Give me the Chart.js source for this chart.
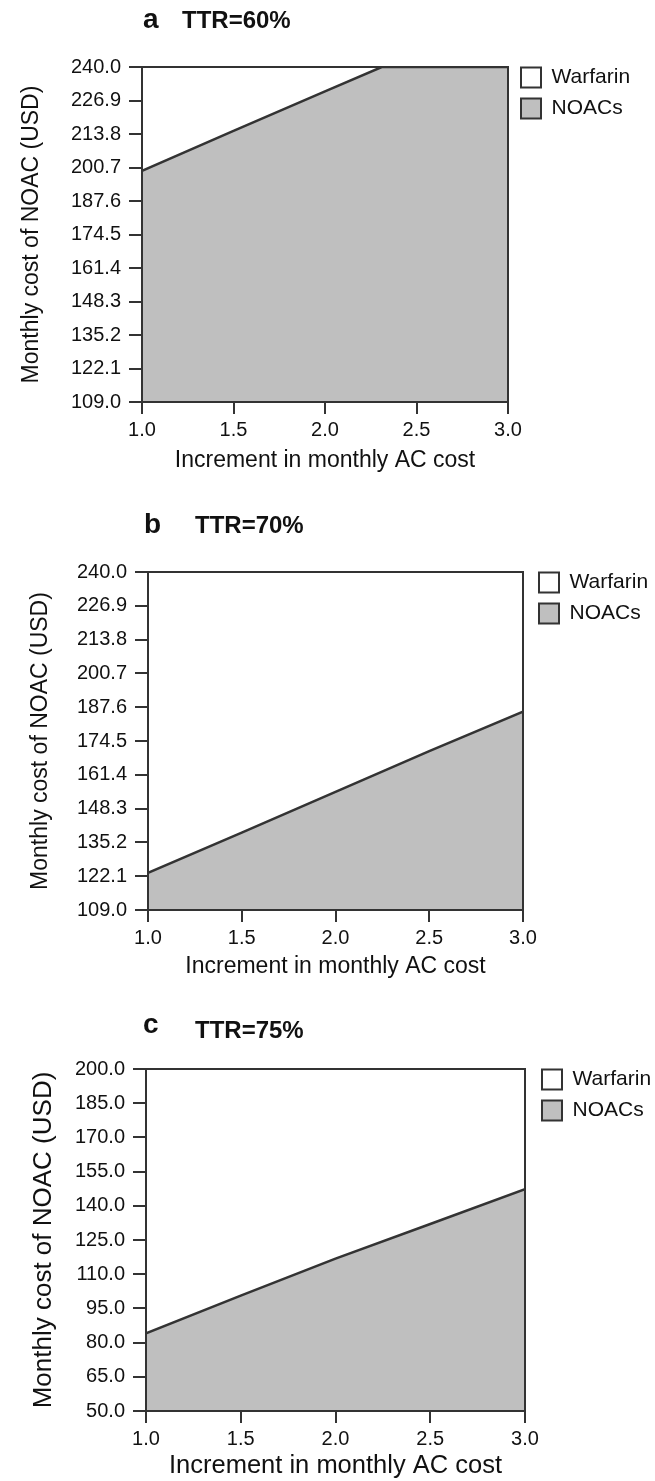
<!DOCTYPE html>
<html>
<head>
<meta charset="utf-8">
<script src="https://cdn.jsdelivr.net/npm/chart.js@4.4.0/dist/chart.umd.min.js"></script>
<style>
  html, body { margin: 0; padding: 0; background: #fff; }
  #page { position: relative; width: 655px; height: 1481px; overflow: hidden; }
  .panel { position: absolute; left: 0; width: 655px; }
  .panel canvas { display: block; }
</style>
</head>
<body>
<div id="page">
  <div class="panel" style="top:0px"><canvas id="chartA" width="655" height="490"></canvas></div>
  <div class="panel" style="top:490px"><canvas id="chartB" width="655" height="490"></canvas></div>
  <div class="panel" style="top:980px"><canvas id="chartC" width="655" height="501"></canvas></div>
</div>
<script>
// tick labels
const xTicks = [1.0, 1.5, 2.0, 2.5, 3.0];
const yTicksAB = [109.0, 122.1, 135.2, 148.3, 161.4, 174.5, 187.6, 200.7, 213.8, 226.9, 240.0];
const yTicksC = [50.0, 65.0, 80.0, 95.0, 110.0, 125.0, 140.0, 155.0, 170.0, 185.0, 200.0];

// threshold line: NOAC monthly cost vs increment in monthly AC cost
const incA = [1.0, 1.5, 2.0, 2.31, 2.5, 3.0];
const noacA = [199.4, 215.0, 230.5, 240.0, 240.0, 240.0];
const incB = [1.0, 1.5, 2.0, 2.5, 3.0];
const noacB = [123.4, 139.0, 154.8, 170.6, 185.9];
const incC = [1.0, 1.5, 2.0, 2.5, 3.0];
const noacC = [84.1, 100.6, 116.8, 132.0, 147.3];

const seriesNames = ['Warfarin', 'NOACs'];
const panelLetters = ['a', 'b', 'c'];
const panelTitles = ['TTR=60%', 'TTR=70%', 'TTR=75%'];
const xTitle = 'Increment in monthly AC cost';
const yTitle = 'Monthly cost of NOAC (USD)';

const FONT = '"Liberation Sans", Arial, sans-serif';
const INK = '#111';
const LINE = '#333';
Chart.defaults.font.family = FONT;
Chart.defaults.color = INK;

// box around the plot area
const frame = {
    id: 'frame',
    afterDatasetsDraw(chart) {
        const {ctx, chartArea: a} = chart;
        ctx.save();
        ctx.strokeStyle = LINE;
        ctx.lineWidth = 2;
        ctx.strokeRect(a.left, a.top, a.right - a.left, a.bottom - a.top);
        ctx.restore();
    }
};

// panel letter + TTR heading
const panelTitle = {
    id: 'panelTitle',
    afterDraw(chart, args, o) {
        const ctx = chart.ctx;
        ctx.save();
        ctx.fillStyle = '#111';
        ctx.textBaseline = 'alphabetic';
        ctx.font = 'bold 28px ' + FONT;
        ctx.fillText(o.letter, o.letterX, o.letterY);
        ctx.font = 'bold 24px ' + FONT;
        ctx.fillText(o.text, o.textX, o.textY);
        ctx.restore();
    }
};

// nudge the legend so the first box lines up with the top of the plot,
// and let it use the space up to the canvas edge
const legendShift = {
    id: 'legendShift',
    afterLayout(chart, args, o) {
        const lg = chart.legend;
        if (!lg) return;
        lg.left += o.dx;
        lg.right = chart.width;
        lg.width = lg.right - lg.left;
        lg.top -= o.dy; lg.bottom -= o.dy;
    }
};

function makePanel(id, i, xs, noac, yTicks, cfg) {
    const yMax = yTicks[yTicks.length - 1];
    const ctx = document.getElementById(id).getContext('2d');
    return new Chart(ctx, {
        type: 'line',
        data: {
            datasets: [{
                label: seriesNames[1],
                data: xs.map((x, k) => ({x: x, y: noac[k]})),
                borderColor: LINE,
                borderWidth: 2.5,
                backgroundColor: '#bfbfbf',
                fill: 'start',
                pointRadius: 0,
                tension: 0
            }, {
                label: seriesNames[0],
                data: xs.map(x => ({x: x, y: yMax})),
                borderColor: 'rgba(0,0,0,0)',
                borderWidth: 0,
                backgroundColor: '#ffffff',
                fill: '-1',
                pointRadius: 0
            }]
        },
        options: {
            responsive: false,
            animation: false,
            devicePixelRatio: 1,
            layout: { padding: { top: cfg.top, left: 0, right: cfg.padR, bottom: 0 } },
            scales: {
                x: {
                    type: 'linear',
                    min: xTicks[0],
                    max: xTicks[xTicks.length - 1],
                    afterBuildTicks: s => { s.ticks = xTicks.map(v => ({value: v})); },
                    afterFit: s => { s.height = cfg.xH; },
                    grid: { drawOnChartArea: false, drawTicks: true, tickLength: 12, color: LINE, lineWidth: 2 },
                    border: { display: true, color: LINE, width: 2 },
                    ticks: { padding: 4, color: INK, font: { size: 20 }, maxRotation: 0, autoSkip: false,
                        callback: v => Number(v).toFixed(1) },
                    title: { display: true, text: xTitle, color: INK, font: { size: cfg.xTitleSize },
                        padding: { top: 0, bottom: cfg.xTitlePad } }
                },
                y: {
                    min: yTicks[0],
                    max: yMax,
                    afterBuildTicks: s => { s.ticks = yTicks.map(v => ({value: v})); },
                    afterFit: s => { s.width = cfg.yW; },
                    grid: { drawOnChartArea: false, drawTicks: true, tickLength: 13, color: LINE, lineWidth: 2 },
                    border: { display: true, color: LINE, width: 2 },
                    ticks: { padding: 8, color: INK, font: { size: 20 }, autoSkip: false,
                        callback: v => Number(v).toFixed(1) },
                    title: { display: true, text: yTitle, color: INK, font: { size: cfg.yTitleSize },
                        padding: { top: cfg.yTitlePad, bottom: 0 } }
                }
            },
            plugins: {
                tooltip: { enabled: false },
                legend: {
                    position: 'right',
                    align: 'start',
                    reverse: true,
                    maxWidth: 100,
                    labels: {
                        boxWidth: 20,
                        boxHeight: 20,
                        padding: 10,
                        color: INK,
                        font: { size: 21 },
                        generateLabels(chart) {
                            return Chart.defaults.plugins.legend.labels.generateLabels(chart)
                                .map(l => Object.assign(l, { strokeStyle: LINE, lineWidth: 2 }));
                        }
                    }
                },
                legendShift: { dx: cfg.legDx, dy: 10 },
                panelTitle: {
                    letter: panelLetters[i], text: panelTitles[i],
                    letterX: cfg.letterX, letterY: cfg.letterY, textX: cfg.textX, textY: cfg.textY
                }
            }
        },
        plugins: [frame, panelTitle, legendShift]
    });
}

makePanel('chartA', 0, incA, noacA, yTicksAB, {
    top: 67, xH: 88, yW: 142, padR: 47, legDx: 3,
    xTitleSize: 23, xTitlePad: 16, yTitleSize: 23, yTitlePad: 18,
    letterX: 143, letterY: 28, textX: 182, textY: 28
});
makePanel('chartB', 1, incB, noacB, yTicksAB, {
    top: 82, xH: 70, yW: 148, padR: 32, legDx: 6,
    xTitleSize: 23, xTitlePad: 0, yTitleSize: 23, yTitlePad: 27,
    letterX: 144, letterY: 43, textX: 195, textY: 43
});
makePanel('chartC', 2, incC, noacC, yTicksC, {
    top: 89, xH: 70, yW: 146, padR: 30, legDx: 7,
    xTitleSize: 25.5, xTitlePad: 0, yTitleSize: 26, yTitlePad: 28,
    letterX: 143, letterY: 53, textX: 195, textY: 58
});
</script>
</body>
</html>
